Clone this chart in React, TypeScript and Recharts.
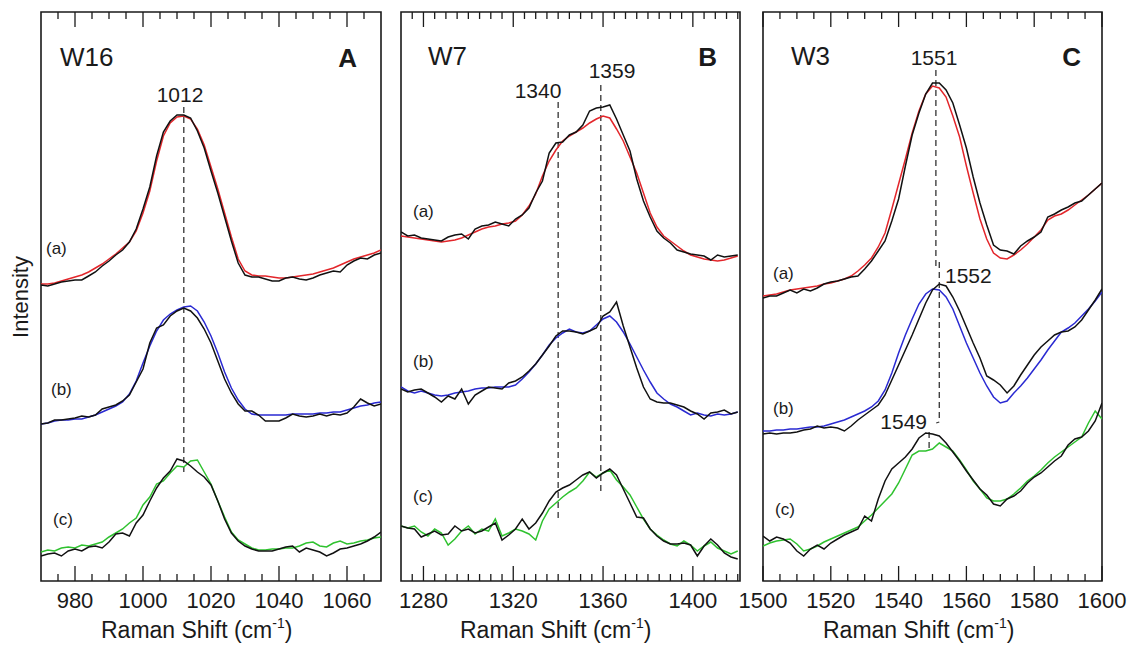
import React from 'react';
import { LineChart, Line, XAxis, YAxis, ReferenceLine, ReferenceArea } from 'recharts';

const FONT = '"Liberation Sans", Arial, Helvetica, sans-serif';
const INK = '#1a1a1a';
const RED = '#e3262b';
const BLUE = '#2a2ad2';
const GREEN = '#2fc22f';

const PLOT_TOP = 12;
const PLOT_H = 569;
const AXIS_H = 66;
const CHART_H = PLOT_TOP + PLOT_H + AXIS_H;

// ---- Panel A : W16 ----
const w16X = [970, 972, 974, 976, 978, 980, 982, 984, 986, 988, 990, 992, 994, 996, 998, 1000, 1002, 1004, 1006, 1008, 1010, 1012, 1014, 1016, 1018, 1020, 1022, 1024, 1026, 1028, 1030, 1032, 1034, 1036, 1038, 1040, 1042, 1044, 1046, 1048, 1050, 1052, 1054, 1056, 1058, 1060, 1062, 1064, 1066, 1068, 1070];
const w16RedA = [297, 297, 298, 300, 302, 304, 306, 309, 313, 317, 322, 327, 333, 339, 350, 368, 390, 420, 445, 458, 464, 465, 462, 452, 436, 414, 392, 368, 344, 322, 310, 306, 305, 305, 304, 303, 303, 304, 305, 306, 307, 309, 311, 313, 316, 319, 322, 324, 326, 328, 331];
const w16BlackA = [296, 295, 297, 299, 300, 301, 301, 305, 309, 315, 320, 326, 331, 339, 352, 372, 394, 425, 449, 460, 466, 466, 463, 450, 433, 410, 388, 364, 340, 318, 306, 304, 304, 302, 300, 300, 303, 304, 302, 301, 303, 306, 308, 310, 309, 316, 320, 323, 322, 326, 328];
const w16BlueB = [157, 158, 160, 161, 161, 162, 162, 164, 166, 169, 172, 175, 179, 187, 200, 218, 235, 250, 261, 267, 271, 274, 275, 270, 259, 245, 228, 209, 193, 181, 172, 167, 166, 166, 166, 166, 166, 167, 167, 167, 167, 168, 168, 169, 169, 171, 173, 175, 176, 178, 179];
const w16BlackB = [157, 158, 161, 161, 162, 163, 165, 164, 166, 172, 174, 176, 180, 186, 199, 212, 238, 253, 256, 265, 270, 273, 270, 263, 252, 238, 220, 202, 188, 177, 170, 170, 166, 160, 160, 160, 163, 167, 165, 164, 165, 167, 165, 167, 166, 168, 174, 182, 178, 175, 177];
const w16GreenC = [29, 31, 30, 33, 34, 33, 36, 35, 37, 39, 44, 48, 52, 58, 63, 76, 84, 97, 100, 108, 115, 114, 120, 121, 109, 97, 80, 64, 49, 41, 37, 33, 31, 31, 32, 32, 33, 33, 35, 38, 39, 35, 34, 38, 40, 37, 38, 40, 41, 43, 44];
const w16BlackC = [25, 27, 28, 25, 30, 32, 30, 34, 35, 33, 39, 47, 48, 45, 58, 66, 80, 93, 103, 110, 122, 120, 115, 109, 104, 96, 80, 62, 48, 40, 35, 32, 30, 30, 30, 32, 34, 35, 29, 33, 31, 29, 25, 28, 32, 33, 35, 37, 40, 44, 49];
const w16Ticks = [975, 980, 985, 990, 995, 1000, 1005, 1010, 1015, 1020, 1025, 1030, 1035, 1040, 1045, 1050, 1055, 1060, 1065];

// ---- Panel B : W7 ----
const w7X = [1270, 1273, 1276, 1279, 1282, 1285, 1288, 1291, 1294, 1297, 1300, 1303, 1306, 1309, 1312, 1315, 1318, 1321, 1324, 1327, 1330, 1333, 1336, 1339, 1342, 1345, 1348, 1351, 1354, 1357, 1360, 1363, 1366, 1369, 1372, 1375, 1378, 1381, 1384, 1387, 1390, 1393, 1396, 1399, 1402, 1405, 1408, 1411, 1414, 1417, 1420];
const w7RedA = [345, 344, 343, 342, 341, 340, 339, 340, 341, 343, 346, 349, 352, 354, 355, 357, 358, 360, 366, 375, 387, 405, 420, 431, 440, 445, 449, 453, 458, 462, 465, 463, 452, 440, 424, 408, 388, 368, 354, 345, 340, 335, 330, 326, 324, 322, 321, 320, 321, 323, 325];
const w7BlackA = [349, 345, 346, 343, 342, 341, 340, 344, 346, 347, 342, 352, 355, 356, 359, 357, 355, 362, 366, 373, 388, 400, 428, 438, 439, 446, 449, 456, 470, 473, 474, 476, 462, 446, 430, 402, 380, 364, 350, 343, 338, 331, 329, 327, 326, 325, 321, 326, 324, 325, 326];
const w7BlueB = [194, 190, 188, 190, 188, 186, 185, 186, 188, 189, 190, 192, 193, 193, 194, 194, 194, 196, 202, 209, 217, 226, 236, 243, 248, 252, 249, 248, 250, 256, 262, 265, 259, 249, 237, 224, 211, 199, 188, 182, 177, 174, 170, 166, 168, 166, 165, 167, 166, 167, 169];
const w7BlackB = [192, 189, 191, 192, 188, 184, 179, 185, 182, 192, 177, 186, 190, 194, 193, 192, 198, 200, 204, 210, 217, 226, 235, 245, 250, 250, 249, 247, 250, 253, 265, 269, 279, 255, 234, 213, 194, 182, 179, 178, 178, 176, 174, 170, 167, 162, 168, 169, 171, 167, 169];
const w7GreenC = [55, 53, 55, 49, 45, 52, 48, 36, 42, 50, 55, 47, 52, 50, 62, 45, 48, 52, 50, 47, 41, 60, 72, 78, 84, 89, 93, 100, 109, 104, 108, 111, 101, 94, 86, 74, 62, 52, 46, 41, 37, 35, 40, 36, 30, 35, 39, 33, 30, 27, 30];
const w7BlackC = [55, 53, 52, 44, 47, 50, 46, 47, 55, 50, 52, 48, 50, 54, 58, 41, 46, 52, 62, 52, 58, 68, 80, 89, 93, 96, 101, 106, 109, 103, 108, 112, 106, 92, 78, 64, 63, 52, 45, 40, 37, 37, 38, 36, 25, 35, 42, 36, 28, 24, 22];
const w7Ticks = [1275, 1280, 1285, 1290, 1295, 1300, 1305, 1310, 1315, 1320, 1325, 1330, 1335, 1340, 1345, 1350, 1355, 1360, 1365, 1370, 1375, 1380, 1385, 1390, 1395, 1400, 1405, 1410, 1415, 1420];

// ---- Panel C : W3 ----
const w3X = [1500, 1502, 1504, 1506, 1508, 1510, 1512, 1514, 1516, 1518, 1520, 1522, 1524, 1526, 1528, 1530, 1532, 1534, 1536, 1538, 1540, 1542, 1544, 1546, 1548, 1550, 1552, 1554, 1556, 1558, 1560, 1562, 1564, 1566, 1568, 1570, 1572, 1574, 1576, 1578, 1580, 1582, 1584, 1586, 1588, 1590, 1592, 1594, 1596, 1598, 1600];
const w3RedA = [285, 286, 287, 289, 291, 292, 293, 294, 295, 297, 298, 300, 302, 305, 310, 316, 323, 334, 348, 372, 397, 422, 448, 470, 487, 495, 493, 484, 465, 444, 415, 388, 362, 342, 328, 323, 322, 326, 331, 337, 344, 351, 361, 365, 367, 371, 376, 381, 386, 392, 398];
const w3BlackA = [283, 285, 285, 288, 291, 288, 292, 290, 293, 297, 299, 300, 302, 304, 305, 312, 320, 330, 340, 360, 382, 415, 446, 468, 487, 498, 498, 491, 478, 456, 433, 404, 378, 356, 336, 331, 330, 327, 335, 340, 344, 349, 364, 367, 371, 374, 378, 380, 386, 392, 398];
const w3BlueB = [150, 150, 151, 151, 152, 152, 153, 154, 154, 155, 157, 159, 161, 164, 167, 170, 174, 180, 191, 208, 228, 246, 262, 277, 287, 292, 291, 284, 272, 255, 238, 223, 208, 195, 184, 178, 180, 188, 195, 203, 212, 221, 231, 240, 249, 253, 258, 265, 272, 280, 289];
const w3BlackB = [147, 148, 147, 148, 148, 149, 151, 152, 155, 153, 154, 153, 150, 155, 161, 166, 171, 176, 186, 201, 216, 231, 246, 262, 278, 291, 297, 295, 284, 270, 254, 238, 223, 205, 201, 196, 188, 195, 206, 216, 226, 234, 240, 246, 249, 250, 254, 261, 271, 281, 292];
const w3GreenC = [35, 38, 40, 41, 42, 37, 30, 32, 35, 39, 42, 45, 48, 51, 54, 60, 66, 73, 80, 87, 98, 112, 126, 130, 130, 132, 138, 134, 130, 121, 111, 100, 92, 83, 80, 80, 82, 87, 93, 100, 105, 111, 118, 124, 129, 134, 139, 144, 158, 170, 162];
const w3BlackC = [45, 40, 44, 42, 38, 30, 25, 32, 36, 32, 38, 42, 46, 49, 52, 65, 60, 82, 100, 112, 118, 124, 132, 143, 148, 147, 145, 138, 129, 120, 110, 101, 92, 86, 77, 75, 82, 85, 90, 98, 104, 108, 114, 120, 125, 136, 142, 144, 150, 160, 178];
const w3Ticks = [1500, 1505, 1510, 1515, 1520, 1525, 1530, 1535, 1540, 1545, 1550, 1555, 1560, 1565, 1570, 1575, 1580, 1585, 1590, 1595, 1600];

// peak marker segments [x1, y1, x2, y2]
const w16Marks = [[1012, 474, 1012, 109]];
const w7Marks = [[1340, 479, 1340, 59], [1359, 496, 1359, 88]];
const w3Marks = [[1551, 511, 1551, 314], [1552, 319, 1552, 159], [1552, 159, 1551.1, 158], [1549, 149, 1549, 129]];

const toRows = (xs: number[], a: number[], ak: number[], b: number[], bk: number[], c: number[], ck: number[]) =>
  xs.map((x, i) => ({ x, colA: a[i], blkA: ak[i], colB: b[i], blkB: bk[i], colC: c[i], blkC: ck[i] }));

const rowsA = toRows(w16X, w16RedA, w16BlackA, w16BlueB, w16BlackB, w16GreenC, w16BlackC);
const rowsB = toRows(w7X, w7RedA, w7BlackA, w7BlueB, w7BlackB, w7GreenC, w7BlackC);
const rowsC = toRows(w3X, w3RedA, w3BlackA, w3BlueB, w3BlackB, w3GreenC, w3BlackC);

// ticks point inward from both bottom and top frame edges
const renderTick = (props: any, major: number) => {
  const { x, y, payload } = props;
  const v = payload.value;
  const big = v % major === 0;
  const len = big ? 15 : 7;
  return (
    <g>
      <line x1={x} x2={x} y1={y} y2={y - len} stroke={INK} strokeWidth={1.3} />
      <line x1={x} x2={x} y1={y - PLOT_H} y2={y - PLOT_H + len} stroke={INK} strokeWidth={1.3} />
      {big && (
        <text x={x} y={y + 27} textAnchor="middle" fontSize={22} fontFamily={FONT} fill={INK}>
          {v}
        </text>
      )}
    </g>
  );
};

interface PanelProps {
  rows: any[];
  domain: [number, number];
  ticks: number[];
  major: number;
  left: number;
  width: number;
  marks: number[][];
}

const Panel: React.FC<PanelProps> = ({ rows, domain, ticks, major, left, width, marks }) => (
  <div style={{ position: 'absolute', left: 0, top: 0 }}>
    <LineChart width={left + width + 30} height={CHART_H} data={rows} margin={{ top: PLOT_TOP, right: 30, bottom: 0, left }}>
      <XAxis
        type="number"
        dataKey="x"
        domain={domain}
        ticks={ticks}
        interval={0}
        allowDataOverflow
        tickLine={false}
        axisLine={false}
        tickSize={0}
        tickMargin={0}
        height={AXIS_H}
        tick={(p: any) => renderTick(p, major)}
      />
      <YAxis hide type="number" domain={[0, PLOT_H]} allowDataOverflow />
      <ReferenceArea x1={domain[0]} x2={domain[1]} y1={0} y2={PLOT_H} fill="none" stroke={INK} strokeWidth={1.6} ifOverflow="visible" />
      {marks.map((m, i) => (
        <ReferenceLine
          key={i}
          segment={[{ x: m[0], y: m[1] }, { x: m[2], y: m[3] }]}
          stroke="#333"
          strokeWidth={1.3}
          strokeDasharray="6 4"
          ifOverflow="visible"
        />
      ))}
      <Line type="linear" dataKey="colA" stroke={RED} strokeWidth={1.5} dot={false} isAnimationActive={false} />
      <Line type="linear" dataKey="colB" stroke={BLUE} strokeWidth={1.5} dot={false} isAnimationActive={false} />
      <Line type="linear" dataKey="colC" stroke={GREEN} strokeWidth={1.5} dot={false} isAnimationActive={false} />
      <Line type="linear" dataKey="blkA" stroke="#111" strokeWidth={1.5} dot={false} isAnimationActive={false} />
      <Line type="linear" dataKey="blkB" stroke="#111" strokeWidth={1.5} dot={false} isAnimationActive={false} />
      <Line type="linear" dataKey="blkC" stroke="#111" strokeWidth={1.5} dot={false} isAnimationActive={false} />
    </LineChart>
  </div>
);

const T = (p: { x: number; y: number; s?: number; a?: 'start' | 'middle' | 'end'; b?: boolean; children: React.ReactNode }) => (
  <text x={p.x} y={p.y} fontSize={p.s || 21} textAnchor={p.a || 'start'} fontWeight={p.b ? 'bold' : 'normal'} fontFamily={FONT} fill={INK}>
    {p.children}
  </text>
);

const AxisTitle = ({ x }: { x: number }) => (
  <text x={x} y={638} fontSize={23} fontFamily={FONT} fill={INK}>
    Raman Shift (cm<tspan fontSize={14} dy={-10}>-1</tspan>
    <tspan dy={10}>)</tspan>
  </text>
);

export default function App() {
  return (
    <div style={{ position: 'absolute', left: 0, top: 0, width: 1133, height: 647, background: '#fff', overflow: 'hidden' }}>
      <Panel rows={rowsA} domain={[970, 1070]} ticks={w16Ticks} major={20} left={41} width={340} marks={w16Marks} />
      <Panel rows={rowsB} domain={[1270, 1421]} ticks={w7Ticks} major={40} left={401} width={339} marks={w7Marks} />
      <Panel rows={rowsC} domain={[1500, 1600]} ticks={w3Ticks} major={20} left={763} width={339} marks={w3Marks} />
      <svg width={1133} height={647} style={{ position: 'absolute', left: 0, top: 0, pointerEvents: 'none' }}>
        <text transform="translate(28, 297) rotate(-90)" textAnchor="middle" fontSize={22} fontFamily={FONT} fill={INK}>
          Intensity
        </text>
        <AxisTitle x={101} />
        <AxisTitle x={460} />
        <AxisTitle x={823} />

        <T x={60} y={66} s={26}>W16</T>
        <T x={357} y={67} s={26} a="end" b>A</T>
        <T x={180} y={102} a="middle">1012</T>
        <T x={46} y={254} s={17}>(a)</T>
        <T x={51} y={395} s={17}>(b)</T>
        <T x={53} y={525} s={17}>(c)</T>

        <T x={428} y={65} s={26}>W7</T>
        <T x={717} y={66} s={26} a="end" b>B</T>
        <T x={538} y={98} a="middle">1340</T>
        <T x={612} y={78} a="middle">1359</T>
        <T x={413} y={217} s={17}>(a)</T>
        <T x={413} y={367} s={17}>(b)</T>
        <T x={413} y={502} s={17}>(c)</T>

        <T x={791} y={65} s={26}>W3</T>
        <T x={1081} y={66} s={26} a="end" b>C</T>
        <T x={934} y={65} a="middle">1551</T>
        <T x={945} y={283} a="start">1552</T>
        <T x={927} y={429} a="end">1549</T>
        <T x={773} y={279} s={17}>(a)</T>
        <T x={773} y={414} s={17}>(b)</T>
        <T x={775} y={515} s={17}>(c)</T>
      </svg>
    </div>
  );
}
